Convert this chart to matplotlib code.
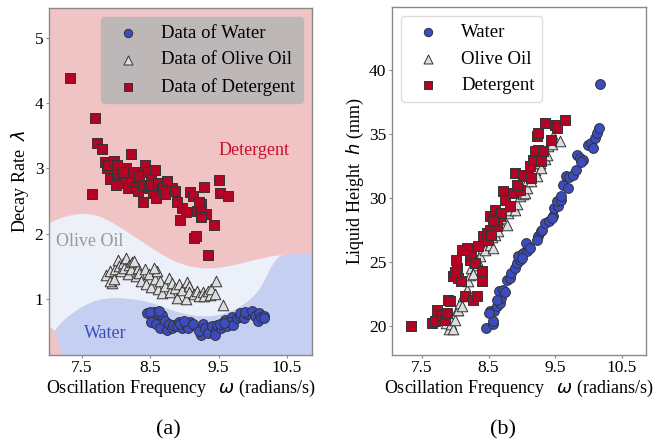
import numpy as np
import matplotlib
matplotlib.use('Agg')
import matplotlib.pyplot as plt

plt.rcParams['font.family'] = ['Liberation Serif', 'DejaVu Sans']
plt.rcParams['mathtext.fontset'] = 'dejavusans'

# ---- water: frequency (rad/s), liquid height (mm), decay rate
water_freq = [8.46, 8.56, 8.57, 8.52, 8.58, 8.62, 8.67, 8.69, 8.65, 8.72, 8.74, 8.77, 8.82, 8.84,
              8.89, 8.92, 8.97, 8.94, 9.02, 9.07, 9.09, 9.06, 9.12, 9.24, 9.22, 9.28, 9.30, 9.34,
              9.40, 9.46, 9.45, 9.48, 9.54, 9.52, 9.59, 9.62, 9.69, 9.66, 9.71, 9.77, 9.81, 9.82,
              9.87, 9.92, 9.89, 9.99, 10.04, 10.07, 10.09, 10.12, 10.16, 10.17, 8.50, 8.63, 9.00, 9.58]
water_height = [19.82, 20.08, 20.34, 21.12, 21.12, 21.56, 21.77, 22.16, 22.68, 22.81, 22.60, 23.59,
                23.72, 24.12, 24.51, 24.90, 25.16, 25.41, 25.68, 25.80, 26.20, 26.46, 26.10, 26.98,
                26.70, 27.37, 27.50, 28.02, 28.15, 28.54, 28.40, 29.20, 29.32, 29.71, 29.84, 31.02,
                30.76, 31.66, 31.60, 31.80, 32.19, 33.36, 33.10, 32.97, 32.80, 34.14, 34.27, 33.88,
                34.66, 35.05, 35.44, 38.90, 21.00, 22.00, 25.30, 30.10]
water_decay = [0.78, 0.80, 0.72, 0.65, 0.62, 0.78, 0.75, 0.58, 0.55, 0.66, 0.52, 0.62, 0.55, 0.60,
               0.58, 0.64, 0.55, 0.62, 0.60, 0.57, 0.65, 0.55, 0.62, 0.45, 0.50, 0.62, 0.55, 0.48,
               0.58, 0.52, 0.45, 0.60, 0.55, 0.62, 0.67, 0.58, 0.72, 0.65, 0.60, 0.70, 0.73, 0.78,
               0.70, 0.76, 0.80, 0.82, 0.74, 0.66, 0.78, 0.72, 0.74, 0.70, 0.80, 0.81, 0.66, 0.63]

# ---- olive oil
oil_freq = [7.86, 7.91, 7.94, 7.92, 7.97, 7.99, 8.03, 8.04, 8.07, 8.10, 8.12, 8.15, 8.17, 8.19,
            8.22, 8.24, 8.29, 8.32, 8.33, 8.37, 8.42, 8.44, 8.49, 8.52, 8.57, 8.60, 8.62, 8.64,
            8.67, 8.72, 8.77, 8.79, 8.82, 8.87, 8.89, 8.92, 8.97, 9.02, 9.04, 9.07, 9.07, 9.14,
            9.19, 9.22, 9.27, 9.29, 9.34, 9.37, 9.39, 9.45, 9.47, 9.57, 8.26, 8.55]
oil_height = [20.20, 19.70, 20.08, 20.50, 19.69, 20.47, 21.20, 21.25, 21.77, 21.50, 22.29, 22.50,
              22.81, 23.46, 23.98, 24.51, 24.38, 24.77, 25.10, 25.41, 26.07, 25.94, 26.72, 26.30,
              26.07, 27.10, 27.50, 27.37, 28.02, 28.41, 27.89, 28.80, 29.06, 29.32, 29.06, 29.50,
              30.10, 30.30, 30.37, 30.76, 31.28, 31.28, 32.19, 31.66, 32.71, 32.32, 33.00, 33.36,
              34.00, 34.20, 34.79, 34.40, 24.00, 26.90]
oil_decay = [1.37, 1.42, 1.24, 1.28, 1.30, 1.45, 1.60, 1.50, 1.42, 1.55, 1.48, 1.62, 1.38, 1.52,
             1.45, 1.56, 1.35, 1.48, 1.40, 1.28, 1.45, 1.22, 1.38, 1.18, 1.30, 1.42, 1.15, 1.27,
             1.09, 1.20, 1.32, 1.10, 1.25, 1.17, 1.01, 1.22, 1.14, 1.00, 1.26, 1.20, 1.10, 1.08,
             1.12, 1.04, 1.10, 1.05, 1.12, 1.06, 1.15, 1.08, 1.27, 0.91, 1.58, 1.48]

# ---- detergent
det_freq = [7.33, 7.65, 7.69, 7.72, 7.80, 7.84, 7.87, 7.89, 7.92, 7.97, 8.02, 8.01, 8.04, 8.09,
            8.14, 8.17, 8.22, 8.24, 8.27, 8.29, 8.32, 8.34, 8.40, 8.40, 8.42, 8.47, 8.49, 8.52,
            8.54, 8.52, 8.59, 8.62, 8.67, 8.69, 8.72, 8.74, 8.82, 8.87, 8.89, 8.97, 9.02, 8.93,
            9.09, 9.14, 9.12, 9.17, 9.19, 9.24, 9.29, 9.32, 9.22, 9.24, 9.34, 9.44, 9.50, 9.52,
            9.64, 8.10, 8.57, 8.00]
det_height = [20.00, 20.20, 20.34, 21.20, 20.80, 20.47, 20.99, 22.03, 21.90, 23.85, 24.50, 25.16,
              23.72, 23.46, 22.29, 26.07, 25.16, 25.41, 22.03, 24.90, 22.29, 26.20, 24.24, 23.46,
              26.98, 27.24, 26.72, 27.50, 27.11, 28.54, 29.06, 27.76, 28.54, 28.80, 30.49, 29.84,
              29.32, 30.37, 31.93, 30.63, 31.80, 31.00, 31.66, 31.54, 32.45, 32.97, 33.62, 33.75,
              32.84, 33.62, 34.79, 35.05, 35.83, 34.53, 35.70, 35.44, 36.04, 25.90, 28.20, 24.20]
det_decay = [4.38, 2.61, 3.77, 3.39, 3.29, 3.10, 3.00, 3.05, 2.83, 3.12, 3.05, 2.92, 2.85, 2.78,
             3.00, 2.70, 3.22, 2.80, 2.95, 2.72, 2.65, 2.88, 2.75, 2.49, 3.05, 2.95, 2.70, 2.85,
             2.62, 2.75, 2.55, 2.78, 2.68, 2.72, 2.60, 2.80, 2.70, 2.65, 2.49, 2.40, 2.33, 2.21,
             2.64, 1.93, 2.58, 1.96, 2.35, 2.45, 2.71, 2.30, 2.48, 2.25, 1.67, 2.13, 2.82, 2.63,
             2.57, 2.95, 2.98, 2.75]

# ---- classifier regions in panel (a), boundaries
bnd_x = [7.0, 7.1, 7.25, 7.5, 7.75, 8.0, 8.25, 8.5, 8.75, 9.0, 9.25, 9.5, 9.75, 10.0,
         10.15, 10.25, 10.37, 10.5, 10.9]
oil_top = [2.15, 2.21, 2.27, 2.32, 2.28, 2.14, 1.97, 1.80, 1.63, 1.52, 1.47, 1.48, 1.53, 1.60,
           1.63, 1.66, 1.67, 1.69, 1.70]
water_top = [0.40, 0.52, 0.70, 0.89, 1.00, 1.02, 1.00, 0.95, 0.85, 0.77, 0.73, 0.75, 0.84, 1.02,
             1.24, 1.47, 1.66, 1.69, 1.70]
corner_y = [0.10, 0.14, 0.32, 0.525, 0.60]
corner_x = [7.21, 7.20, 7.153, 7.105, 7.0]

c_water, c_oil, c_det = '#3b4cc0', '#dddddd', '#b40426'
bg_det, bg_oil, bg_water = '#f0c4c4', '#ecf0f9', '#c5cff1'


def smooth(x, y, n=3):
    # chaikin corner cutting so the region edges look like contour lines
    p = np.column_stack([x, y]).astype(float)
    for _ in range(n):
        q = 0.75 * p[:-1] + 0.25 * p[1:]
        r = 0.25 * p[:-1] + 0.75 * p[1:]
        mid = np.empty((2 * len(q), 2))
        mid[0::2] = q
        mid[1::2] = r
        p = np.vstack([p[:1], mid, p[-1:]])
    return p[:, 0], p[:, 1]


def style(ax):
    for sp in ax.spines.values():
        sp.set_color('#8a8a8a')
        sp.set_linewidth(1.0)
    ax.tick_params(length=2, width=0.8, color='#8a8a8a', labelsize=12.5, pad=2)


fig = plt.figure(figsize=(6.7, 4.42), dpi=100)
ax1 = fig.add_axes([0.073, 0.197, 0.393, 0.785])
ax2 = fig.add_axes([0.585, 0.197, 0.379, 0.787])

# panel (a)
ax1.set_facecolor(bg_det)
sx, so = smooth(bnd_x, oil_top)
_, sw = smooth(bnd_x, water_top)
ax1.fill_between(sx, sw, so, color=bg_oil, lw=0, zorder=0)
ax1.fill_between(sx, -1, sw, color=bg_water, lw=0, zorder=0)
cy, cx = smooth(corner_y, corner_x)
ax1.fill_betweenx(cy, 6.9, cx, color=bg_det, lw=0, zorder=0)

ax1.scatter(water_freq, water_decay, s=50, marker='o', c=c_water, edgecolors='#333333',
            linewidths=0.7, label='Data of Water', zorder=3)
ax1.scatter(oil_freq, oil_decay, s=58, marker='^', c=c_oil, edgecolors='#333333',
            linewidths=0.7, label='Data of Olive Oil', zorder=3)
ax1.scatter(det_freq, det_decay, s=45, marker='s', c=c_det, edgecolors='#333333',
            linewidths=0.7, label='Data of Detergent', zorder=3)

ax1.text(10.02, 3.27, 'Detergent', color='#c8102e', fontsize=13, ha='center', va='center')
ax1.text(7.61, 1.88, 'Olive Oil', color='#9a9a9a', fontsize=13, ha='center', va='center')
ax1.text(7.85, 0.47, 'Water', color='#3b4cc0', fontsize=13, ha='center', va='center')

ax1.set_xlim(7.02, 10.87)
ax1.set_ylim(0.14, 5.46)
ax1.set_xticks([7.5, 8.5, 9.5, 10.5])
ax1.set_yticks([1, 2, 3, 4, 5])
ax1.set_xlabel('Oscillation Frequency   $\\omega$ (radians/s)', fontsize=13, labelpad=1)
ax1.set_ylabel('Decay Rate  $\\lambda$', fontsize=13)
ax1.yaxis.set_label_coords(-0.068, 0.5)
style(ax1)
ax1.legend(loc='upper right', fontsize=13.5, facecolor='#bdb7b7', edgecolor='#bdb7b7',
           framealpha=1, markerscale=0.85)

# panel (b)
ax2.scatter(water_freq, water_height, s=50, marker='o', c=c_water, edgecolors='#333333',
            linewidths=0.7, label='Water', zorder=3)
ax2.scatter(oil_freq, oil_height, s=58, marker='^', c=c_oil, edgecolors='#333333',
            linewidths=0.7, label='Olive Oil', zorder=3)
ax2.scatter(det_freq, det_height, s=45, marker='s', c=c_det, edgecolors='#333333',
            linewidths=0.7, label='Detergent', zorder=3)
ax2.set_xlim(7.05, 10.86)
ax2.set_ylim(17.7, 44.9)
ax2.set_xticks([7.5, 8.5, 9.5, 10.5])
ax2.set_yticks([20, 25, 30, 35, 40])
ax2.set_xlabel('Oscillation Frequency   $\\omega$ (radians/s)', fontsize=13, labelpad=1)
ax2.set_ylabel('Liquid Height  $h$ (mm)', fontsize=13)
ax2.yaxis.set_label_coords(-0.102, 0.5)
style(ax2)
ax2.legend(loc='upper left', fontsize=13.5, facecolor='white', edgecolor='#dddddd',
           framealpha=1, markerscale=0.85)

fig.text(168 / 670, 1 - 430 / 442, '(a)', fontsize=16, ha='center', va='center')
fig.text(503 / 670, 1 - 430 / 442, '(b)', fontsize=16, ha='center', va='center')

fig.savefig('out.png', dpi=100)
